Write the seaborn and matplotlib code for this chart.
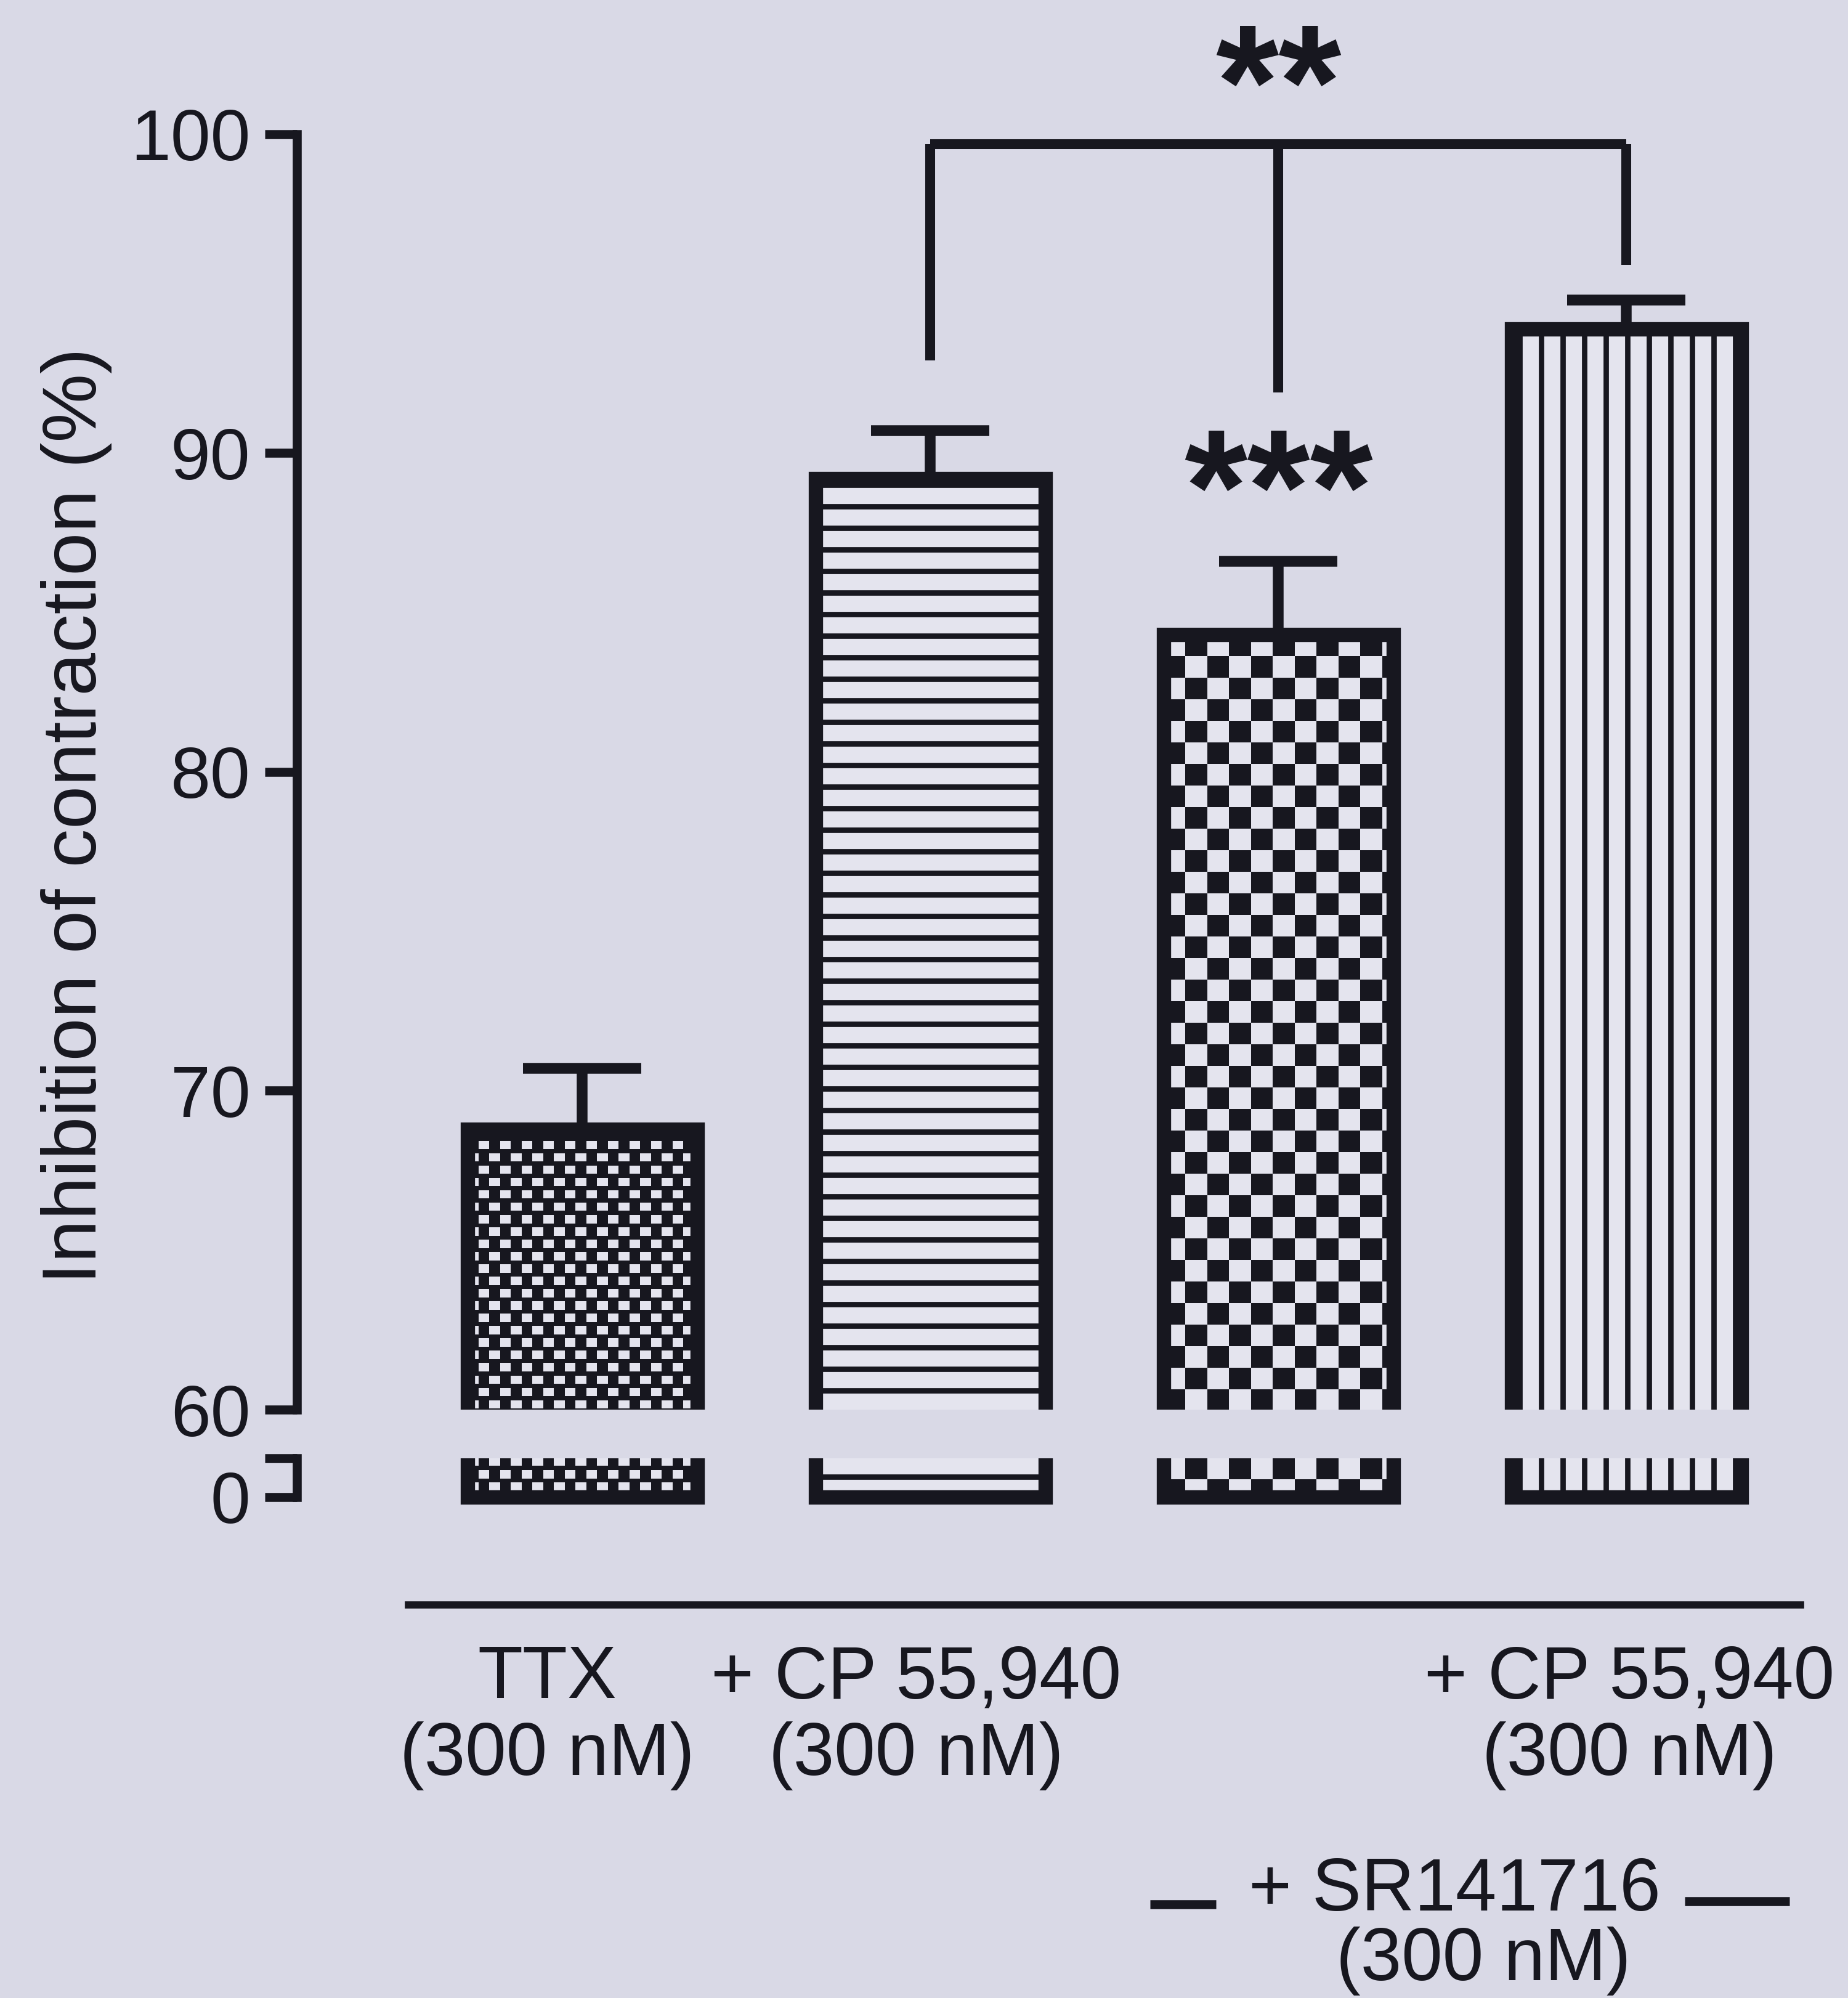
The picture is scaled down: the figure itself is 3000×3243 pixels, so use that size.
import numpy as np
import pandas as pd
import matplotlib
matplotlib.use("Agg")
import matplotlib.pyplot as plt
import seaborn as sns
from matplotlib.colors import ListedColormap
from matplotlib.transforms import ScaledTranslation, blended_transform_factory

# ---- data -------------------------------------------------------------
conditions = ["TTX", "TTX + CP 55,940", "TTX + SR141716", "TTX + SR141716 + CP 55,940"]
mean_inhibition = [68.8, 89.2, 84.3, 93.9]        # % inhibition of contraction
sem_upper = [1.9, 1.5, 2.3, 0.9]                  # SEM (drawn upward only)
tick_labels = ["TTX\n(300 nM)", "+ CP 55,940\n(300 nM)", "", "+ CP 55,940\n(300 nM)"]
group_label = ["+ SR141716", "(300 nM)"]
ylabel = "Inhibition of contraction (%)"
upper_ticks = [60, 70, 80, 90, 100]
lower_ticks = [0]

# significance annotations
bracket_bars = [1, 2, 3]
bracket_leg_ends = [92.9, 91.9, 95.9]
bracket_top = 99.7
stars_bracket = "**"
stars_bar3 = "***"

# ---- style ------------------------------------------------------------
DPI = 210
BG = "#d9d9e6"
LIGHT = "#e4e4ee"
DARK = "#17171f"

sns.set_theme(style="ticks", rc={
    "figure.facecolor": BG, "axes.facecolor": BG, "savefig.facecolor": BG,
    "axes.edgecolor": DARK, "text.color": DARK,
    "xtick.color": DARK, "ytick.color": DARK,
    "axes.labelcolor": DARK, "hatch.color": DARK, "hatch.linewidth": 3.0,
})
plt.rcParams["font.family"] = ["Liberation Sans", "DejaVu Sans"]

W, H = 3000, 3243
fig = plt.figure(figsize=(W / DPI, H / DPI), dpi=DPI)

ax_left = 482 / W
ax_w = (W - 482) / W
# upper segment: 60..104.2, lower segment: -2.8..5
ax_top = fig.add_axes([ax_left, (H - 2288) / H, ax_w, 2288 / H])
ax_bot = fig.add_axes([ax_left, (H - 2465) / H, ax_w, 98 / H], sharex=ax_top)

df = pd.DataFrame({"condition": conditions, "inhibition": mean_inhibition})

fills = ["fine_check", "hline", "coarse_check", "vline"]
EDGE_LW = 8


def checker_fill(ax, patch, sub_w, sub_h, tile):
    """Fill a bar with a checker texture clipped to its outline."""
    x0, w = patch.get_x(), patch.get_width()
    y0, h = patch.get_y(), patch.get_height()
    ylo, yhi = ax.get_ylim()
    y_lo, y_hi = max(y0, ylo), min(y0 + h, yhi)
    (px0, py0), (px1, py1) = ax.transData.transform([(x0, y_lo), (x0 + w, y_hi)])
    pxx = (px1 - px0) / w
    pxy = (py1 - py0) / (y_hi - y_lo)
    nx = int(np.ceil((px1 - px0) / sub_w)) + 1
    ny = int(np.ceil((py1 - py0) / sub_h)) + 1
    tile = np.asarray(tile)
    reps = (ny // tile.shape[0] + 2, nx // tile.shape[1] + 2)
    arr = np.tile(tile, reps)[:ny, :nx]
    extent = [x0, x0 + nx * sub_w / pxx, y_hi - ny * sub_h / pxy, y_hi]
    im = ax.imshow(arr, cmap=ListedColormap([DARK, LIGHT]), vmin=0, vmax=1,
                   extent=extent, origin="upper", interpolation="nearest",
                   aspect="auto", zorder=1.5)
    # clip to the bar outline while keeping the axes clip box
    im.set_clip_path(patch.get_path(), patch.get_transform())


fine_tile = [[1, 0], [1, 0], [0, 0], [0, 1], [0, 1], [0, 0]]
coarse_tile = [[1, 0], [0, 1]]

for ax, ylim in ((ax_top, (60, 60 + 2288 / 51.75)), (ax_bot, (-2.78, 5))):
    sns.barplot(data=df, x="condition", y="inhibition", ax=ax, errorbar=None,
                width=0.66, color=LIGHT, edgecolor=DARK, linewidth=EDGE_LW,
                saturation=1, zorder=2)
    ax.set_ylim(*ylim)
    ax.set_xlim(-0.82, 3.637)
    for patch, fill in zip(ax.patches, fills):
        if fill == "hline":
            patch.set_hatch("-")
        elif fill == "vline":
            patch.set_hatch("|")
        else:
            patch.set_facecolor("none")
            if fill == "fine_check":
                checker_fill(ax, patch, 17.5, 20 / 3, fine_tile)
            else:
                checker_fill(ax, patch, 35.5, 35.0, coarse_tile)
    ax.set_ylim(*ylim)
    ax.set_xlim(-0.82, 3.637)
    ax.set_xlabel("")
    ax.set_ylabel("")
    for s in ("top", "right"):
        ax.spines[s].set_visible(False)
    ax.spines["left"].set_linewidth(5)

# error bars (upper side only)
xpos = np.arange(len(conditions))
eb = ax_top.errorbar(xpos, mean_inhibition, yerr=[np.zeros(len(xpos)), sem_upper],
                     fmt="none", ecolor=DARK, elinewidth=6, capsize=33, capthick=6,
                     zorder=3)
for cl in eb[1]:
    if np.allclose(cl.get_ydata(), mean_inhibition):
        cl.set_visible(False)

# upper axis
ax_top.spines["bottom"].set_visible(False)
ax_top.spines["left"].set_bounds(60, 100)
ax_top.set_yticks(upper_ticks)
ax_top.set_yticks([60], minor=True)
ax_top.tick_params(axis="y", which="major", direction="out", length=18, width=5,
                   labelsize=40, pad=8)
ax_top.tick_params(axis="y", which="minor", direction="in", length=14, width=5)
ax_top.tick_params(axis="x", which="both", bottom=False, labelbottom=False)

# lower axis
ax_bot.spines["left"].set_bounds(0, 5)
ax_bot.set_yticks([0, 5])
ax_bot.set_yticklabels([str(t) for t in lower_ticks] + [""])
ax_bot.set_yticks([5], minor=True)
ax_bot.tick_params(axis="y", which="major", direction="out", length=18, width=5,
                   labelsize=40, pad=8)
ax_bot.tick_params(axis="y", which="minor", direction="in", length=14, width=5)
ax_bot.spines["bottom"].set_bounds(-0.5, 3.5)
ax_bot.spines["bottom"].set_position(("outward", 48))
ax_bot.spines["bottom"].set_linewidth(4)
ax_bot.set_xticks(xpos)
ax_bot.set_xticklabels(tick_labels, fontsize=41, linespacing=1.15)
ax_bot.tick_params(axis="x", length=0, pad=22)
for lab, dx in zip(ax_bot.get_xticklabels(), [-57, -23, 0, 5]):
    lab.set_transform(lab.get_transform() + ScaledTranslation(dx / DPI, 0, fig.dpi_scale_trans))

# y label
ax_top.set_ylabel(ylabel, fontsize=43)
ax_top.yaxis.set_label_coords((182 - 482) / (W - 482), (2288 - 1324) / 2288)

# group label spanning the antagonist bars
tr = blended_transform_factory(ax_bot.transData, fig.transFigure)
ax_bot.text(2.506, 1 - 3101 / H, group_label[0], transform=tr, ha="center",
            va="baseline", fontsize=41, clip_on=False)
ax_bot.text(2.589, 1 - 3214 / H, group_label[1], transform=tr, ha="center",
            va="baseline", fontsize=41, clip_on=False)
ax_bot.plot([1.632, 1.821], [1 - 3091 / H] * 2, transform=tr, color=DARK, lw=5,
            clip_on=False, solid_capstyle="butt")
ax_bot.plot([3.168, 3.469], [1 - 3086 / H] * 2, transform=tr, color=DARK, lw=5,
            clip_on=False, solid_capstyle="butt")

# significance bracket and stars
bx = bracket_bars
ax_top.plot([bx[0], bx[-1]], [bracket_top, bracket_top], color=DARK, lw=5.5,
            solid_capstyle="butt", zorder=4)
for xb, yend in zip(bx, bracket_leg_ends):
    ax_top.plot([xb, xb], [bracket_top, yend], color=DARK, lw=5.5,
                solid_capstyle="butt", zorder=4)
ax_top.text(2, 99.88, stars_bracket, ha="center", va="baseline", fontsize=90,
            fontweight="bold", clip_on=False)
ax_top.text(2, 87.2, stars_bar3, ha="center", va="baseline", fontsize=90,
            fontweight="bold", clip_on=False)

fig.savefig("out.png", dpi=DPI, facecolor=BG)
